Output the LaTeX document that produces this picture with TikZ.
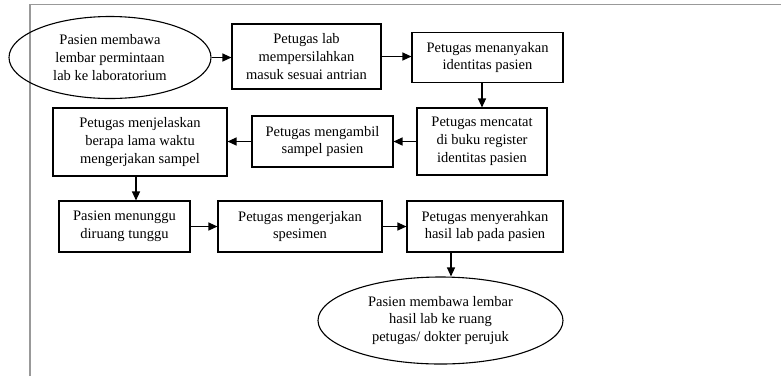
\documentclass[tikz,border=0pt]{standalone}
\usepackage{fontspec}
\setmainfont{Liberation Serif}
\usetikzlibrary{arrows.meta,shapes.geometric,calc}
\begin{document}
\begin{tikzpicture}[x=1pt,y=-1pt,
  every node/.style={font=\fontsize{14.5}{17.8}\selectfont, align=center, inner sep=0pt},
  box/.style={draw, line width=1.1pt, rectangle},
  oval/.style={draw, line width=1.1pt, ellipse},
  arr/.style={line width=1.2pt, -{Triangle[length=9pt,width=8pt]}},
  frame/.style={draw=gray!80, line width=1.6pt}]
\useasboundingbox (0,0) rectangle (781,376);
\draw[frame] (30,376) -- (30,4.5) -- (781,4.5);
\node[oval, minimum width=202pt, minimum height=82pt] (e1) at (110,57.5) {Pasien membawa\\lembar permintaan\\lab ke laboratorium};
\node[box, minimum width=149pt, minimum height=65pt] (b2) at (306.5,56.5) {Petugas lab\\mempersilahkan\\masuk sesuai antrian};
\node[box, minimum width=151pt, minimum height=50pt] (b3) at (487.5,57.5) {Petugas menanyakan\\identitas pasien};
\node[box, minimum width=130pt, minimum height=67pt] (b4) at (482,141.5) {Petugas mencatat\\di buku register\\identitas pasien};
\node[box, minimum width=141pt, minimum height=51pt] (b5) at (322.5,141.5) {Petugas mengambil\\sampel pasien};
\node[box, minimum width=174pt, minimum height=68pt] (b6) at (140,142) {Petugas menjelaskan\\berapa lama waktu\\mengerjakan sampel};
\node[box, minimum width=131pt, minimum height=51pt] (b7) at (124.5,226.5) {Pasien menunggu\\diruang tunggu};
\node[box, minimum width=164pt, minimum height=51pt] (b8) at (300,226.5) {Petugas mengerjakan\\spesimen};
\node[box, minimum width=156pt, minimum height=51pt] (b9) at (485,226.5) {Petugas menyerahkan\\hasil lab pada pasien};
\node[oval, minimum width=245pt, minimum height=87pt] (e2) at (440.5,320.5) {Pasien membawa lembar\\hasil lab ke ruang\\petugas/ dokter perujuk};
\draw[arr] (e1.east) -- (e1.east -| b2.west);
\draw[arr] (b2.east) -- (b2.east -| b3.west);
\draw[arr] (b3.south -| b4.north) -- (b4.north);
\draw[arr] (b4.west) -- (b4.west -| b5.east);
\draw[arr] (b5.west) -- (b5.west -| b6.east);
\coordinate (c6) at ($(b6.south)+(-4,0)$);
\draw[arr] (c6) -- (c6 |- b7.north);
\draw[arr] (b7.east) -- (b7.east -| b8.west);
\draw[arr] (b8.east) -- (b8.east -| b9.west);
\coordinate (c9) at ($(b9.south)+(-34,0)$);
\draw[arr] (c9) -- (c9 |- e2.north);
\end{tikzpicture}
\end{document}
